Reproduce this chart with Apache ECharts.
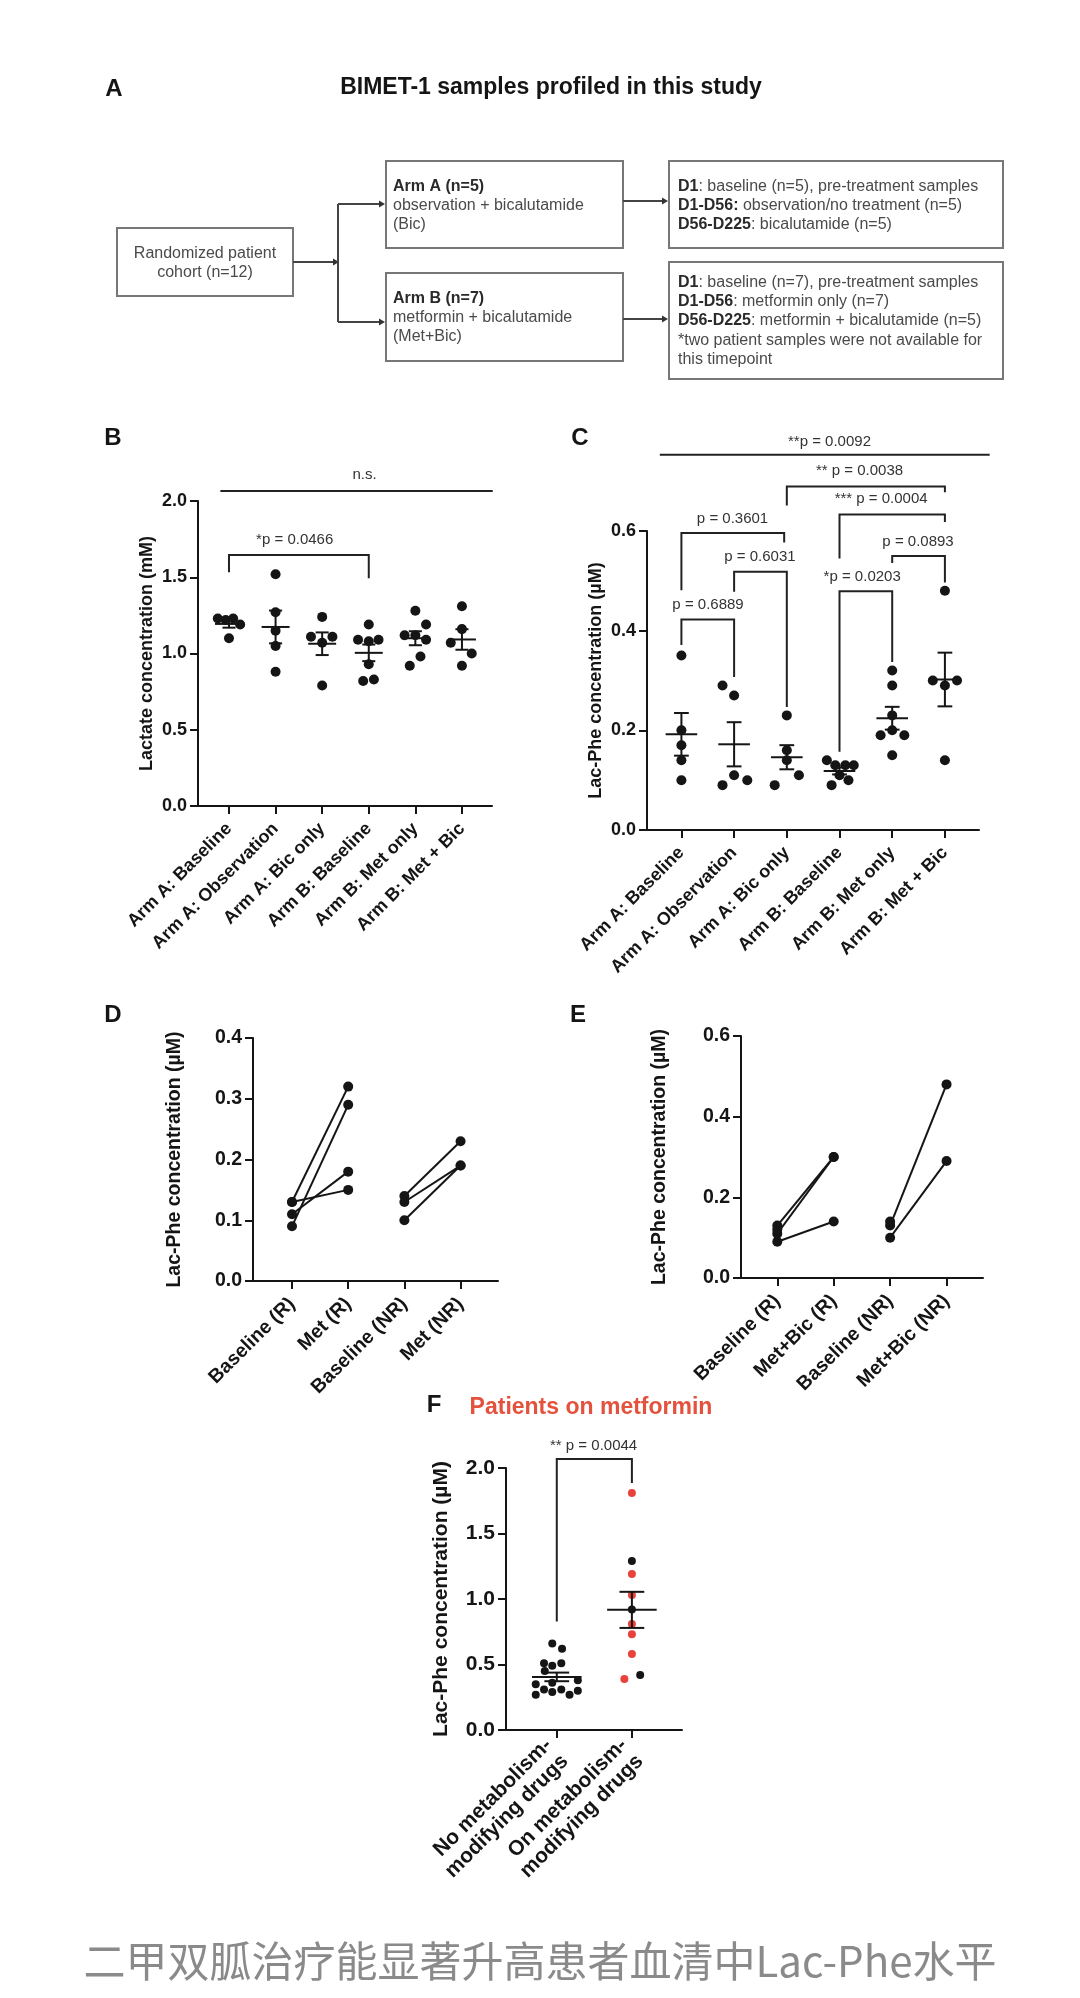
<!DOCTYPE html>
<html>
<head>
<meta charset="utf-8">
<title>BIMET-1 Lac-Phe</title>
<script src="https://cdn.jsdelivr.net/npm/echarts@6/dist/echarts.min.js"></script>
<style>
  html, body { margin: 0; padding: 0; background: #fff; }
  #chart { width: 1080px; height: 1998px; }
</style>
</head>
<body>
<div id="chart"></div>
<script>
// ---------- data ----------
const groupsBC = ['Arm A: Baseline', 'Arm A: Observation', 'Arm A: Bic only',
  'Arm B: Baseline', 'Arm B: Met only', 'Arm B: Met + Bic'];

// B: lactate (mM), one list per group
const lactate = [
  [1.23, 1.22, 1.23, 1.19, 1.10],
  [1.52, 1.27, 1.15, 1.05, 0.88],
  [1.24, 1.11, 1.11, 1.07, 0.79],
  [1.19, 1.09, 1.08, 1.09, 0.93, 0.82, 0.83],
  [1.28, 1.19, 1.12, 1.12, 1.09, 0.98, 0.92],
  [1.31, 1.16, 1.07, 1.00, 0.92]
];
// horizontal scatter spread of each dot (in category units)
const lactateSpread = [
  [-0.24, -0.07, 0.09, 0.24, 0],
  [0, 0, 0, 0, 0],
  [0, -0.24, 0.22, 0, 0],
  [0, -0.23, 0, 0.21, 0, -0.12, 0.11],
  [0, 0.23, -0.23, 0, 0.23, 0.11, -0.12],
  [0, 0, -0.24, 0.21, 0]
];

// C: Lac-Phe (µM)
const lacPhe = [
  [0.35, 0.20, 0.17, 0.14, 0.10],
  [0.29, 0.27, 0.09, 0.11, 0.10],
  [0.23, 0.16, 0.14, 0.09, 0.11],
  [0.14, 0.13, 0.13, 0.13, 0.11, 0.09, 0.10],
  [0.32, 0.29, 0.23, 0.20, 0.19, 0.19, 0.15],
  [0.48, 0.30, 0.29, 0.30, 0.14]
];
const lacPheSpread = [
  [0, 0, 0, 0, 0],
  [-0.22, 0, -0.22, 0, 0.25],
  [0, 0, 0, -0.23, 0.23],
  [-0.24, -0.08, 0.11, 0.27, 0, -0.15, 0.17],
  [0, 0, 0, 0, -0.22, 0.23, 0],
  [0, -0.23, 0, 0.23, 0]
];

// D: paired baseline -> metformin
const pairLabelsD = ['Baseline (R)', 'Met (R)', 'Baseline (NR)', 'Met (NR)'];
const baseR_D = [0.13, 0.09, 0.11, 0.13];
const metR_D = [0.32, 0.29, 0.18, 0.15];
const baseNR_D = [0.14, 0.13, 0.10];
const metNR_D = [0.23, 0.19, 0.19];

// E: paired baseline -> metformin + bicalutamide (null = no later sample)
const pairLabelsE = ['Baseline (R)', 'Met+Bic (R)', 'Baseline (NR)', 'Met+Bic (NR)'];
const baseR_E = [0.13, 0.11, 0.09, 0.12];
const metBicR_E = [0.30, 0.30, 0.14, null];
const baseNR_E = [0.13, 0.10, 0.14];
const metBicNR_E = [0.48, 0.29, null];

// F: patients on metformin
const groupsF = ['No metabolism-\nmodifying drugs', 'On metabolism-\nmodifying drugs'];
const noDrug = [0.66, 0.62, 0.51, 0.49, 0.51, 0.45, 0.35, 0.36, 0.38, 0.27, 0.31, 0.29, 0.31, 0.27, 0.30];
const noDrugSpread = [-0.06, 0.07, -0.17, -0.06, 0.06, -0.16, -0.28, -0.06, 0.28, -0.28, -0.17, -0.06, 0.06, 0.17, 0.28];
const onDrug = [1.81, 1.29, 1.19, 1.03, 0.92, 0.81, 0.73, 0.58, 0.39, 0.42];
const onMetformin = [1, 0, 1, 1, 0, 1, 1, 1, 1, 0];
const onDrugSpread = [0, 0, 0, 0, 0, 0, 0, 0, -0.10, 0.11];

// significance brackets: x1, x2, top, left leg end, right leg end
const bracketsB = [[-0.185, 5.66, 2.066, 2.066, 2.066], [0, 3, 1.646, 1.533, 1.493]];
const bracketTextB = ['n.s.', '*p = 0.0466'];
const bracketTextAtB = [[2.91, 2.17], [1.41, 1.742]];

const bracketsC = [
  [-0.41, 5.85, 0.753, 0.753, 0.753],
  [2, 5, 0.6895, 0.651, 0.678],
  [3, 5, 0.633, 0.545, 0.618],
  [0, 1.95, 0.596, 0.481, 0.577],
  [4, 5, 0.550, 0.536, 0.4965],
  [1, 2, 0.518, 0.478, 0.247],
  [3, 4, 0.479, 0.157, 0.337],
  [0, 1, 0.4223, 0.371, 0.307]
];
const bracketTextC = ['**p = 0.0092', '** p = 0.0038', '*** p = 0.0004', 'p = 0.3601',
  'p = 0.0893', 'p = 0.6031', '*p = 0.0203', 'p = 0.6889'];
const bracketTextAtC = [[2.81, 0.778], [3.38, 0.720], [3.79, 0.665], [0.97, 0.625],
  [4.49, 0.579], [1.49, 0.548], [3.43, 0.508], [0.505, 0.451]];

const bracketsF = [[0, 1, 2.069, 0.828, 1.886]];
const bracketTextF = ['** p = 0.0044'];
const bracketTextAtF = [[0.49, 2.171]];

// ---------- styling ----------
const FONT = '"Liberation Sans", Arial, Helvetica, sans-serif';
const INK = '#151515';
const RED = '#e8433b';

const mean = a => a.reduce((s, v) => s + v, 0) / a.length;
const sem = a => {
	const m = mean(a);
	return Math.sqrt(a.reduce((s, v) => s + (v - m) * (v - m), 0) / (a.length - 1) / a.length);
};

function xAxisFor(gi, labels, min, max, size) {
	const ticks = labels.map((_, i) => i);
	return {
		gridIndex: gi, type: 'value', min, max,
		axisLine: { show: true, onZero: false, lineStyle: { color: INK, width: 2 } },
		axisTick: { show: true, customValues: ticks, length: 8, lineStyle: { color: INK, width: 2 } },
		axisLabel: {
			customValues: ticks, formatter: v => labels[Math.round(v)], rotate: 45, margin: 20,
			color: INK, fontSize: size, fontWeight: 'bold', fontFamily: FONT, lineHeight: size + 2
		},
		splitLine: { show: false }
	};
}

function yAxisFor(gi, max, step, name, gap, size) {
	return {
		gridIndex: gi, type: 'value', min: 0, max, interval: step,
		name, nameLocation: 'middle', nameRotate: 90, nameGap: gap,
		nameTextStyle: { color: INK, fontSize: size, fontWeight: 'bold', fontFamily: FONT },
		axisLine: { show: true, onZero: false, lineStyle: { color: INK, width: 2 } },
		axisTick: { show: true, length: 8, lineStyle: { color: INK, width: 2 } },
		axisLabel: { formatter: v => v.toFixed(1), margin: 11, color: INK, fontSize: size, fontWeight: 'bold', fontFamily: FONT },
		splitLine: { show: false }
	};
}

function dotSeries(gi, groups, spread, size) {
	const data = [];
	groups.forEach((vals, i) => vals.forEach((v, j) => data.push([i + spread[i][j], v])));
	return {
		type: 'scatter', xAxisIndex: gi, yAxisIndex: gi, data,
		symbolSize: size, itemStyle: { color: INK, opacity: 1 }, silent: true, z: 3
	};
}

/** mean line with SEM whiskers, computed from the group values */
function meanSemSeries(gi, groups, halfMean, halfCap) {
	return {
		type: 'custom', xAxisIndex: gi, yAxisIndex: gi, silent: true, z: 4, clip: false,
		data: groups.map((vals, i) => [i, mean(vals), sem(vals)]),
		renderItem(params, api) {
			const x = api.value(0), m = api.value(1), s = api.value(2);
			const seg = (a, b) => {
				const p = api.coord(a), q = api.coord(b);
				return { type: 'line', shape: { x1: p[0], y1: p[1], x2: q[0], y2: q[1] }, style: { stroke: INK, lineWidth: 2 } };
			};
			return {
				type: 'group', children: [
					seg([x - halfMean, m], [x + halfMean, m]),
					seg([x, m - s], [x, m + s]),
					seg([x - halfCap, m + s], [x + halfCap, m + s]),
					seg([x - halfCap, m - s], [x + halfCap, m - s])
				]
			};
		}
	};
}

function bracketSeries(gi, brackets, texts, textAt) {
	return {
		type: 'custom', xAxisIndex: gi, yAxisIndex: gi, silent: true, z: 5, clip: false,
		data: brackets.map((b, i) => b.concat(textAt[i])),
		renderItem(params, api) {
			const x1 = api.value(0), x2 = api.value(1), yt = api.value(2), yl = api.value(3), yr = api.value(4);
			const t = api.coord([api.value(5), api.value(6)]);
			return {
				type: 'group', children: [
					{
						type: 'polyline',
						shape: { points: [api.coord([x1, yl]), api.coord([x1, yt]), api.coord([x2, yt]), api.coord([x2, yr])] },
						style: { stroke: '#222', lineWidth: 2, fill: null }
					},
					{
						type: 'text', x: t[0], y: t[1],
						style: { text: texts[params.dataIndex], fontSize: 15, fontFamily: FONT, fill: '#333', align: 'center', verticalAlign: 'middle' }
					}
				]
			};
		}
	};
}

function pairSeries(gi, base, after, x0) {
	return base.map((b, i) => {
		const data = after[i] == null ? [[x0, b]] : [[x0, b], [x0 + 1, after[i]]];
		return {
			type: 'line', xAxisIndex: gi, yAxisIndex: gi, data, silent: true,
			symbol: 'circle', symbolSize: 10, showSymbol: true,
			itemStyle: { color: INK }, lineStyle: { color: INK, width: 2 }
		};
	});
}

// ---------- panel A: study scheme ----------
const boxStroke = { fill: 'none', stroke: '#777', lineWidth: 2 };
const txt = (x, y, text, opt = {}) => ({
	type: 'text', x, y,
	style: Object.assign({
		text, fontSize: 16, fontFamily: FONT, fill: '#4a4a4a', align: 'left', verticalAlign: 'middle',
		rich: { b: { fontSize: 16, fontFamily: FONT, fontWeight: 'bold', fill: '#2a2a2a' } }
	}, opt)
});
const arrow = (x1, y, x2) => [
	{ type: 'line', shape: { x1, y1: y, x2: x2 - 5, y2: y }, style: { stroke: '#444', lineWidth: 2 } },
	{ type: 'polygon', shape: { points: [[x2, y], [x2 - 6, y - 3.5], [x2 - 6, y + 3.5]] }, style: { fill: '#333' } }
];

const schemeA = [
	{ type: 'rect', shape: { x: 117, y: 228, width: 176, height: 68 }, style: boxStroke },
	{ type: 'rect', shape: { x: 386, y: 161, width: 237, height: 87 }, style: boxStroke },
	{ type: 'rect', shape: { x: 386, y: 273, width: 237, height: 88 }, style: boxStroke },
	{ type: 'rect', shape: { x: 669, y: 161, width: 334, height: 87 }, style: boxStroke },
	{ type: 'rect', shape: { x: 669, y: 262, width: 334, height: 117 }, style: boxStroke },
	...arrow(293, 262, 339),
	{ type: 'line', shape: { x1: 338, y1: 204, x2: 338, y2: 322 }, style: { stroke: '#444', lineWidth: 2 } },
	...arrow(338, 204, 385),
	...arrow(338, 322, 385),
	...arrow(623, 201, 668),
	...arrow(623, 319, 668),
	txt(205, 254, 'Randomized patient', { align: 'center' }),
	txt(205, 273, 'cohort (n=12)', { align: 'center' }),
	txt(393, 187, '{b|Arm A (n=5)}'),
	txt(393, 206, 'observation + bicalutamide'),
	txt(393, 225, '(Bic)'),
	txt(393, 299, '{b|Arm B (n=7)}'),
	txt(393, 318, 'metformin + bicalutamide'),
	txt(393, 337, '(Met+Bic)'),
	txt(678, 187, '{b|D1}: baseline (n=5), pre-treatment samples'),
	txt(678, 206, '{b|D1-D56:} observation/no treatment (n=5)'),
	txt(678, 225, '{b|D56-D225}: bicalutamide (n=5)'),
	txt(678, 283, '{b|D1}: baseline (n=7), pre-treatment samples'),
	txt(678, 302, '{b|D1-D56}: metformin only (n=7)'),
	txt(678, 321, '{b|D56-D225}: metformin + bicalutamide (n=5)'),
	txt(678, 341, '*two patient samples were not available for'),
	txt(678, 360, 'this timepoint')
];

const heading = (x, y, text, size, fill = INK, align = 'center') => ({
	type: 'text', x, y,
	style: { text, fontSize: size, fontWeight: 'bold', fontFamily: FONT, fill, align, verticalAlign: 'middle' }
});

const panelText = [
	heading(114, 89, 'A', 24),
	heading(551, 88, 'BIMET-1 samples profiled in this study', 23),
	heading(113, 438, 'B', 24),
	heading(580, 438, 'C', 24),
	heading(113, 1015, 'D', 24),
	heading(578, 1015, 'E', 24),
	heading(434, 1405, 'F', 24),
	heading(591, 1408, 'Patients on metformin', 23, '#e4523d'),
	{
		type: 'text', x: 540, y: 1961,
		style: { text: '二甲双胍治疗能显著升高患者血清中Lac-Phe水平', fontSize: 42, fontFamily: '"Noto Sans CJK SC", sans-serif', fill: '#8a8a8a', align: 'center', verticalAlign: 'middle' }
	}
];

// ---------- chart ----------
const chart = echarts.init(document.getElementById('chart'));

const noDrugData = noDrug.map((v, i) => [noDrugSpread[i], v]);
const onDrugData = onDrug.map((v, i) => ({
	value: [1 + onDrugSpread[i], v],
	itemStyle: { color: onMetformin[i] ? RED : INK }
}));

const option = {
	animation: false,
	backgroundColor: '#fff',
	grid: [
		{ left: 198, top: 501, width: 294, height: 305 },   // B
		{ left: 647, top: 531, width: 332, height: 299 },   // C
		{ left: 253, top: 1038, width: 245, height: 243 },  // D
		{ left: 741, top: 1036, width: 242, height: 242 },  // E
		{ left: 506, top: 1468, width: 176, height: 262 }   // F
	],
	xAxis: [
		xAxisFor(0, groupsBC, -0.665, 5.645, 18),
		xAxisFor(1, groupsBC, -0.653, 5.647, 18),
		xAxisFor(2, pairLabelsD, -0.694, 3.666, 19.5),
		xAxisFor(3, pairLabelsE, -0.643, 3.646, 19.5),
		xAxisFor(4, groupsF, -0.676, 1.667, 21)
	],
	yAxis: [
		yAxisFor(0, 2, 0.5, 'Lactate concentration (mM)', 42, 18),
		yAxisFor(1, 0.6, 0.2, 'Lac-Phe concentration (µM)', 42, 18),
		yAxisFor(2, 0.4, 0.1, 'Lac-Phe concentration (µM)', 68, 19.5),
		yAxisFor(3, 0.6, 0.2, 'Lac-Phe concentration (µM)', 71, 19.5),
		yAxisFor(4, 2, 0.5, 'Lac-Phe concentration (µM)', 54, 21)
	],
	series: [
		dotSeries(0, lactate, lactateSpread, 10),
		meanSemSeries(0, lactate, 0.3, 0.14),
		bracketSeries(0, bracketsB, bracketTextB, bracketTextAtB),

		dotSeries(1, lacPhe, lacPheSpread, 10),
		meanSemSeries(1, lacPhe, 0.3, 0.14),
		bracketSeries(1, bracketsC, bracketTextC, bracketTextAtC),

		...pairSeries(2, baseR_D, metR_D, 0),
		...pairSeries(2, baseNR_D, metNR_D, 2),
		...pairSeries(3, baseR_E, metBicR_E, 0),
		...pairSeries(3, baseNR_E, metBicNR_E, 2),

		{ type: 'scatter', xAxisIndex: 4, yAxisIndex: 4, data: noDrugData, symbolSize: 8, itemStyle: { color: INK, opacity: 1 }, silent: true, z: 3 },
		{ type: 'scatter', xAxisIndex: 4, yAxisIndex: 4, data: onDrugData, symbolSize: 8, itemStyle: { opacity: 1 }, silent: true, z: 3 },
		meanSemSeries(4, [noDrug, onDrug], 0.33, 0.165),
		bracketSeries(4, bracketsF, bracketTextF, bracketTextAtF)
	],
	graphic: { elements: schemeA.concat(panelText) }
};

chart.setOption(option);
</script>
</body>
</html>
